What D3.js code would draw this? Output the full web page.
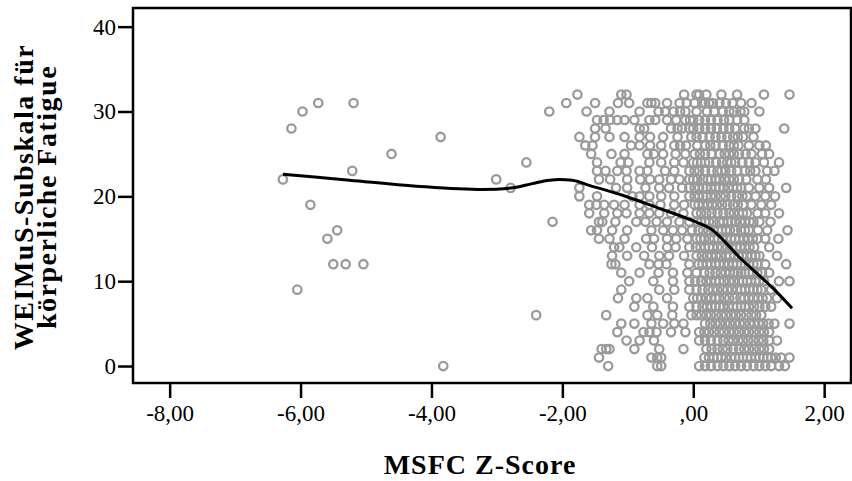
<!DOCTYPE html>
<html>
<head>
<meta charset="utf-8">
<script src="https://cdn.jsdelivr.net/npm/d3@7"></script>
<style>
  body { margin: 0; background: #fff; }
  svg { display: block; }
  .tick text { font-family: "Liberation Serif", "Times New Roman", Times, serif; font-size: 23px; fill: #000; }
</style>
</head>
<body>
<svg id="chart" width="852" height="481"></svg>
<script>
// Fatigue score rows (integer values) and the MSFC z-scores read for each row
var fatigueLevels = [32, 31, 30, 29, 28, 27, 26, 25, 24, 23, 22, 21, 20, 19, 18, 17, 16,
                     15, 14, 13, 12, 11, 10, 9, 8, 7, 6, 5, 4, 3, 2, 1, 0];

var msfcByLevel = [
  [-1.77,-1.10,-1.02,-0.14,0.05,0.09,0.20,0.43,0.67,1.08,1.47],
  [-5.73,-5.19,-1.94,-1.50,-1.15,-0.98,-0.70,-0.64,-0.58,-0.40,-0.21,-0.10,0.02,0.14,0.18,0.24,0.30,0.40,0.50,0.60,0.73,0.89],
  [-5.97,-2.20,-1.63,-1.28,-0.82,-0.53,-0.43,-0.30,-0.20,-0.12,0.05,0.21,0.32,0.45,0.55,0.62,0.72,0.78,1.01],
  [-1.47,-1.37,-1.27,-1.16,-1.05,-0.90,-0.67,-0.58,-0.40,-0.26,-0.12,-0.05,0.00,0.09,0.18,0.27,0.37,0.47,0.55,0.67,0.78],
  [-6.14,-1.50,-1.34,-0.82,-0.75,-0.34,-0.24,-0.17,-0.06,0.00,0.09,0.18,0.27,0.36,0.46,0.55,0.64,0.78,0.85,0.95,1.39],
  [-3.86,-1.74,-1.50,-1.28,-1.05,-0.82,-0.66,-0.46,-0.24,-0.03,0.05,0.14,0.25,0.34,0.43,0.52,0.61,0.68,0.76,0.92],
  [-1.65,-1.54,-0.95,-0.82,-0.66,-0.49,-0.29,-0.20,-0.11,0.06,0.18,0.26,0.34,0.45,0.55,0.62,0.69,0.85,1.01,1.11],
  [-4.61,-1.56,-1.25,-1.05,-0.70,-0.60,-0.46,-0.27,-0.12,0.02,0.10,0.18,0.28,0.40,0.48,0.55,0.62,0.70,0.80,0.89,1.05,1.16],
  [-2.55,-1.47,-1.11,-0.99,-0.67,-0.49,-0.29,-0.15,0.00,0.06,0.12,0.18,0.24,0.35,0.44,0.52,0.58,0.64,0.75,0.85,0.95,1.08,1.31],
  [-5.21,-1.47,-1.34,-1.16,-1.02,-0.82,-0.70,-0.43,-0.29,-0.06,0.02,0.09,0.18,0.28,0.37,0.43,0.49,0.58,0.67,0.79,0.87,0.95,1.13,1.24],
  [-6.27,-3.01,-1.44,-1.27,-1.01,-0.81,-0.66,-0.52,-0.34,-0.21,-0.06,0.00,0.06,0.15,0.22,0.27,0.34,0.40,0.48,0.55,0.62,0.70,0.81,0.98,1.11],
  [-2.79,-1.74,-1.18,-1.01,-0.73,-0.52,-0.37,-0.17,-0.06,0.02,0.09,0.15,0.20,0.27,0.34,0.40,0.46,0.54,0.61,0.67,0.73,0.85,1.01,1.16,1.42],
  [-1.74,-1.47,-0.93,-0.82,-0.67,-0.49,-0.29,-0.06,0.02,0.09,0.15,0.20,0.27,0.34,0.42,0.49,0.58,0.67,0.75,0.82,0.95,1.10,1.25],
  [-5.85,-1.59,-1.48,-1.36,-1.21,-1.05,-0.82,-0.67,-0.50,-0.29,-0.14,0.02,0.08,0.15,0.22,0.29,0.36,0.44,0.52,0.61,0.68,0.76,0.89,1.04,1.19],
  [-1.59,-1.36,-1.16,-1.02,-0.82,-0.67,-0.52,-0.34,-0.15,0.05,0.12,0.20,0.28,0.37,0.46,0.55,0.62,0.70,0.76,0.82,0.98,1.10,1.31],
  [-2.15,-1.44,-1.39,-1.19,-0.87,-0.73,-0.56,-0.40,-0.21,-0.06,0.06,0.12,0.18,0.24,0.31,0.40,0.46,0.53,0.58,0.64,0.72,0.79,0.86,0.92,1.01,1.18],
  [-5.44,-1.56,-1.47,-1.24,-1.01,-0.64,-0.46,-0.31,-0.17,-0.02,0.08,0.15,0.23,0.31,0.38,0.44,0.50,0.56,0.64,0.73,0.79,0.85,0.99,1.13,1.44],
  [-5.59,-1.44,-1.28,-1.05,-0.72,-0.60,-0.40,-0.26,-0.09,0.05,0.11,0.17,0.25,0.32,0.38,0.44,0.51,0.58,0.64,0.70,0.77,0.84,0.91,0.98,1.10,1.30],
  [-1.21,-1.13,-0.87,-0.63,-0.40,-0.27,-0.06,0.04,0.11,0.18,0.24,0.30,0.37,0.44,0.52,0.59,0.66,0.72,0.79,0.86,0.93,1.16],
  [-1.24,-1.01,-0.75,-0.52,-0.37,-0.14,0.05,0.13,0.21,0.28,0.35,0.42,0.50,0.56,0.63,0.69,0.75,0.82,0.89,0.95,1.01,1.28],
  [-5.50,-5.31,-5.04,-1.25,-1.19,-0.67,-0.53,-0.41,-0.06,0.08,0.14,0.21,0.27,0.34,0.40,0.47,0.54,0.61,0.67,0.73,0.79,0.85,0.92,0.98,1.10,1.42],
  [-1.10,-0.82,-0.53,-0.31,-0.09,0.05,0.17,0.25,0.34,0.42,0.49,0.56,0.63,0.68,0.73,0.79,0.85,0.91,0.98,1.05,1.16],
  [-0.98,-0.61,-0.31,-0.06,0.03,0.12,0.20,0.27,0.34,0.40,0.47,0.55,0.62,0.70,0.76,0.82,0.88,0.95,1.01,1.08,1.31,1.47],
  [-6.05,-1.10,-0.52,-0.29,-0.06,0.05,0.14,0.23,0.30,0.37,0.45,0.52,0.59,0.67,0.73,0.79,0.86,0.92,0.98,1.04,1.19],
  [-1.15,-0.87,-0.70,-0.40,0.00,0.06,0.12,0.20,0.27,0.34,0.40,0.48,0.55,0.63,0.72,0.78,0.85,0.92,0.99,1.06,1.13,1.28],
  [-0.90,-0.61,-0.31,-0.06,0.05,0.14,0.21,0.28,0.34,0.40,0.46,0.54,0.61,0.67,0.73,0.79,0.85,0.93,1.01,1.10,1.19],
  [-2.40,-1.33,-0.70,-0.55,-0.32,-0.03,0.05,0.12,0.20,0.27,0.35,0.43,0.50,0.58,0.65,0.73,0.81,0.89,0.96,1.04],
  [-1.10,-0.90,-0.64,-0.46,-0.29,-0.15,0.18,0.26,0.34,0.41,0.49,0.56,0.64,0.71,0.78,0.86,0.93,1.00,1.07,1.15,1.24,1.47],
  [-1.16,-0.76,-0.67,-0.56,-0.34,-0.12,0.09,0.17,0.24,0.32,0.40,0.47,0.55,0.62,0.70,0.78,0.85,0.93,1.01,1.08,1.16],
  [-1.02,-0.82,-0.60,0.09,0.18,0.27,0.37,0.46,0.54,0.61,0.69,0.76,0.84,0.92,1.00,1.07,1.16,1.28],
  [-1.40,-1.33,-1.28,-0.90,-0.52,-0.15,0.20,0.28,0.37,0.45,0.52,0.61,0.70,0.78,0.85,0.93,1.01,1.08,1.16],
  [-1.44,-0.64,-0.55,-0.49,0.17,0.24,0.31,0.37,0.43,0.50,0.58,0.64,0.70,0.76,0.82,0.88,0.95,1.01,1.07,1.13,1.19,1.26,1.34,1.47],
  [-3.82,-1.30,-0.55,-0.49,0.09,0.18,0.27,0.37,0.46,0.55,0.64,0.73,0.82,0.92,1.01,1.10,1.19,1.31,1.40]
];

// loess fit line
var loessX = [-6.27,-5.25,-4.23,-3.22,-2.76,-2.46,-2.2,-2.05,-1.85,-1.59,-1.07,-0.56,0,0.26,0.72,1.24,1.51];
var loessY = [22.6,21.9,21.2,20.8,21.0,21.5,21.9,22.0,21.9,21.3,20.1,18.7,17.1,16.2,12.7,9.0,6.8];

var xTicks = [-8, -6, -4, -2, 0, 2];
var yTicks = [0, 10, 20, 30, 40];

var plotLeft = 133, plotRight = 851, plotTop = 8, plotBottom = 383;
var serif = '"Liberation Serif", "Times New Roman", Times, serif';

var svg = d3.select("#chart");

var x = d3.scaleLinear().domain([-8.56, 2.41]).range([plotLeft, plotRight]);
var y = d3.scaleLinear().domain([-2, 42.2]).range([plotBottom, plotTop]);

var points = [];
fatigueLevels.forEach(function(level, i){
  msfcByLevel[i].forEach(function(v){ points.push({x: v, y: level}); });
});

svg.append("g")
  .selectAll("circle")
  .data(points)
  .enter()
  .append("circle")
  .attr("cx", function(d){ return x(d.x); })
  .attr("cy", function(d){ return y(d.y); })
  .attr("r", 4.2)
  .attr("fill", "none")
  .attr("stroke", "#9a9a9a")
  .attr("stroke-width", 2.3);

var line = d3.line()
  .x(function(d, i){ return x(d); })
  .y(function(d, i){ return y(loessY[i]); })
  .curve(d3.curveMonotoneX);

svg.append("path")
  .attr("d", line(loessX))
  .attr("fill", "none")
  .attr("stroke", "#000")
  .attr("stroke-width", 3);

// frame
svg.append("rect")
  .attr("x", plotLeft).attr("y", plotTop)
  .attr("width", plotRight - plotLeft).attr("height", plotBottom - plotTop)
  .attr("fill", "none")
  .attr("stroke", "#000")
  .attr("stroke-width", 2.5);

var xAxis = d3.axisBottom(x)
  .tickValues(xTicks)
  .tickSize(15)
  .tickPadding(7)
  .tickFormat(function(v){
    var s = v.toFixed(2).replace(".", ",");
    return v === 0 ? ",00" : s;
  });

var yAxis = d3.axisLeft(y)
  .tickValues(yTicks)
  .tickSize(15)
  .tickPadding(2)
  .tickFormat(d3.format("d"));

svg.append("g")
  .attr("transform", "translate(0," + plotBottom + ")")
  .call(xAxis)
  .call(function(g){
    g.select(".domain").remove();
    g.selectAll(".tick line").attr("stroke", "#000").attr("stroke-width", 2.5);
  });

svg.append("g")
  .attr("transform", "translate(" + plotLeft + ",0)")
  .call(yAxis)
  .call(function(g){
    g.select(".domain").remove();
    g.selectAll(".tick line").attr("stroke", "#000").attr("stroke-width", 2.5);
  });

// axis titles
svg.append("text")
  .attr("x", 480)
  .attr("y", 474)
  .attr("text-anchor", "middle")
  .style("font-family", serif)
  .style("font-weight", "bold")
  .style("font-size", "28px")
  .style("letter-spacing", "1px")
  .text("MSFC Z-Score");

var yTitle = svg.append("text")
  .attr("transform", "translate(33,197) rotate(-90)")
  .attr("text-anchor", "middle")
  .style("font-family", serif)
  .style("font-weight", "bold")
  .style("font-size", "28px")
  .style("letter-spacing", "1.5px");

yTitle.append("tspan").attr("x", 0).attr("y", 0).text("WEIMuS-Subskala für");
yTitle.append("tspan").attr("x", 0).attr("y", 23).text("körperliche Fatigue");
</script>
</body>
</html>
